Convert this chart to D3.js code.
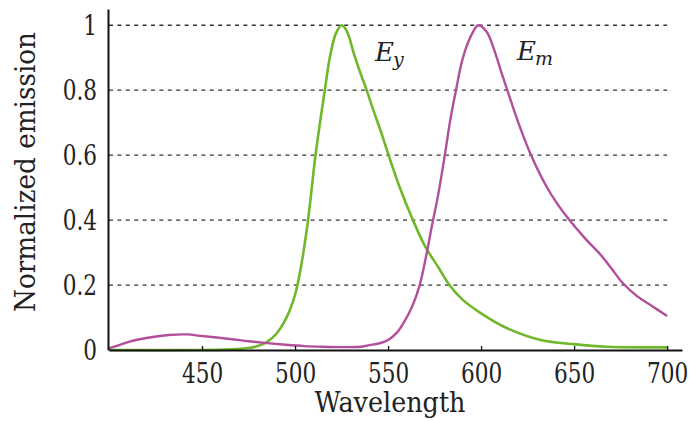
<!DOCTYPE html>
<html>
<head>
<meta charset="utf-8">
<script src="https://cdn.jsdelivr.net/npm/d3@7"></script>
<style>
  html, body { margin: 0; padding: 0; background: #ffffff; }
  svg { display: block; }
  svg text { font-family: "DejaVu Serif"; fill: #222; }
</style>
</head>
<body>
<svg id="chart" width="692" height="421"></svg>
<script>
// ---- data ----
const xTickValues = [450, 500, 550, 600, 650, 700];
const xTickLabels = ["450", "500", "550", "600", "650", "700"];
const yTickValues = [0, 0.2, 0.4, 0.6, 0.8, 1];
const yTickLabels = ["0", "0.2", "0.4", "0.6", "0.8", "1"];

// E_y (green) emission spectrum
const eyWavelength = [400, 450, 465, 475, 480, 485, 490, 495, 500, 503, 507, 511, 516, 519, 522, 525, 527, 529, 531.5, 535, 538.5, 542, 546, 550, 556, 563, 570, 577, 583, 590, 600, 614, 632, 650, 668, 700];
const eyValue      = [0, 0, 0.002, 0.006, 0.012, 0.025, 0.05, 0.095, 0.17, 0.25, 0.4, 0.6, 0.8, 0.91, 0.975, 1.0, 0.99, 0.965, 0.915, 0.855, 0.8, 0.74, 0.675, 0.605, 0.505, 0.405, 0.318, 0.255, 0.2, 0.155, 0.113, 0.067, 0.031, 0.018, 0.01, 0.008];

// E_m (magenta) emission spectrum
const emWavelength = [400, 405, 411, 420, 432, 442, 450, 465, 475, 485, 495, 505, 515, 525, 535, 540, 545, 550, 555, 559, 563, 567, 570.5, 573.5, 577, 580.5, 583.5, 586.5, 590, 594, 598.5, 603, 607, 610.5, 614, 617.5, 621, 627, 635, 641, 647.5, 656, 664, 670, 676, 684, 692, 700];
const emValue      = [0.005, 0.014, 0.026, 0.037, 0.046, 0.048, 0.043, 0.034, 0.027, 0.021, 0.016, 0.012, 0.01, 0.009, 0.01, 0.015, 0.02, 0.031, 0.055, 0.09, 0.135, 0.2, 0.29, 0.38, 0.48, 0.6, 0.71, 0.8, 0.895, 0.96, 1.0, 0.98, 0.925, 0.862, 0.802, 0.742, 0.685, 0.598, 0.505, 0.45, 0.4, 0.343, 0.295, 0.252, 0.207, 0.165, 0.135, 0.105];

const seriesNames = ["E", "E"];
const seriesSubs = ["y", "m"];
const xTitle = "Wavelength";
const yTitle = "Normalized emission";

// ---- drawing ----
const svg = d3.select("#chart");
const x = d3.scaleLinear().domain([400, 708]).range([109, 682]);
const y = d3.scaleLinear().domain([0, 1.05]).range([350, 9]);

const colors = { ey: "#70b82b", em: "#b24f9a" };
const squeeze = 0.8;

// gridlines
svg.append("g").selectAll("line")
  .data(yTickValues.filter(d => d > 0))
  .join("line")
  .attr("x1", x(400)).attr("x2", x(700))
  .attr("y1", d => y(d)).attr("y2", d => y(d))
  .attr("stroke", "#333")
  .attr("stroke-width", 1.3)
  .attr("stroke-dasharray", "4,4.4");

// curves
const line = d3.line().x(d => x(d[0])).y(d => y(d[1])).curve(d3.curveCatmullRom.alpha(0.5));
svg.append("path")
  .datum(eyWavelength.map((w, i) => [w, eyValue[i]]))
  .attr("d", line).attr("fill", "none")
  .attr("stroke", colors.ey).attr("stroke-width", 2.6).attr("stroke-linejoin", "round");
svg.append("path")
  .datum(emWavelength.map((w, i) => [w, emValue[i]]))
  .attr("d", line).attr("fill", "none")
  .attr("stroke", colors.em).attr("stroke-width", 2.4).attr("stroke-linejoin", "round");

// x axis
const xAxis = d3.axisBottom(x)
  .tickValues(xTickValues)
  .tickFormat((d, i) => xTickLabels[i])
  .tickSizeInner(-4).tickSizeOuter(0);
const gx = svg.append("g").attr("transform", `translate(0,${y(0)})`).call(xAxis)
  .attr("font-family", null);
gx.select(".domain").attr("stroke", "#111").attr("stroke-width", 2);
gx.selectAll(".tick line").attr("stroke", "#111").attr("stroke-width", 1.3);
gx.selectAll(".tick text")
  .attr("x", 0).attr("y", 33).attr("dy", 0)
  .attr("transform", `scale(${squeeze},1)`)
  .attr("font-size", 27)
  .attr("fill", "#222");

// y axis
const yAxis = d3.axisLeft(y)
  .tickValues(yTickValues)
  .tickFormat((d, i) => yTickLabels[i])
  .tickSize(0).tickSizeOuter(0);
const gy = svg.append("g").attr("transform", `translate(${x(400) - 1},0)`).call(yAxis)
  .attr("font-family", null);
gy.select(".domain").attr("stroke", "#111").attr("stroke-width", 2);
gy.selectAll(".tick text")
  .attr("x", -11 / squeeze).attr("dy", "0.36em")
  .attr("transform", `scale(${squeeze},1)`)
  .attr("font-size", 27)
  .attr("fill", "#222");

// axis titles
svg.append("text")
  .attr("x", 390).attr("y", 412)
  .attr("text-anchor", "middle")
  .attr("font-size", 27)
  .attr("textLength", 151).attr("lengthAdjust", "spacingAndGlyphs")
  .text(xTitle);

svg.append("text")
  .attr("transform", "translate(35,172) rotate(-90)")
  .attr("text-anchor", "middle")
  .attr("font-size", 27)
  .attr("textLength", 280).attr("lengthAdjust", "spacingAndGlyphs")
  .text(yTitle);

// series labels
const labelPos = [[375, 61], [517, 60]];
labelPos.forEach((p, i) => {
  const t = svg.append("text")
    .attr("x", p[0]).attr("y", p[1])
    .attr("font-size", 26)
    .attr("font-style", "italic");
  t.append("tspan").text(seriesNames[i]);
  t.append("tspan").attr("dy", 5).attr("dx", -1).attr("font-size", 19).text(seriesSubs[i]);
});
</script>
</body>
</html>
